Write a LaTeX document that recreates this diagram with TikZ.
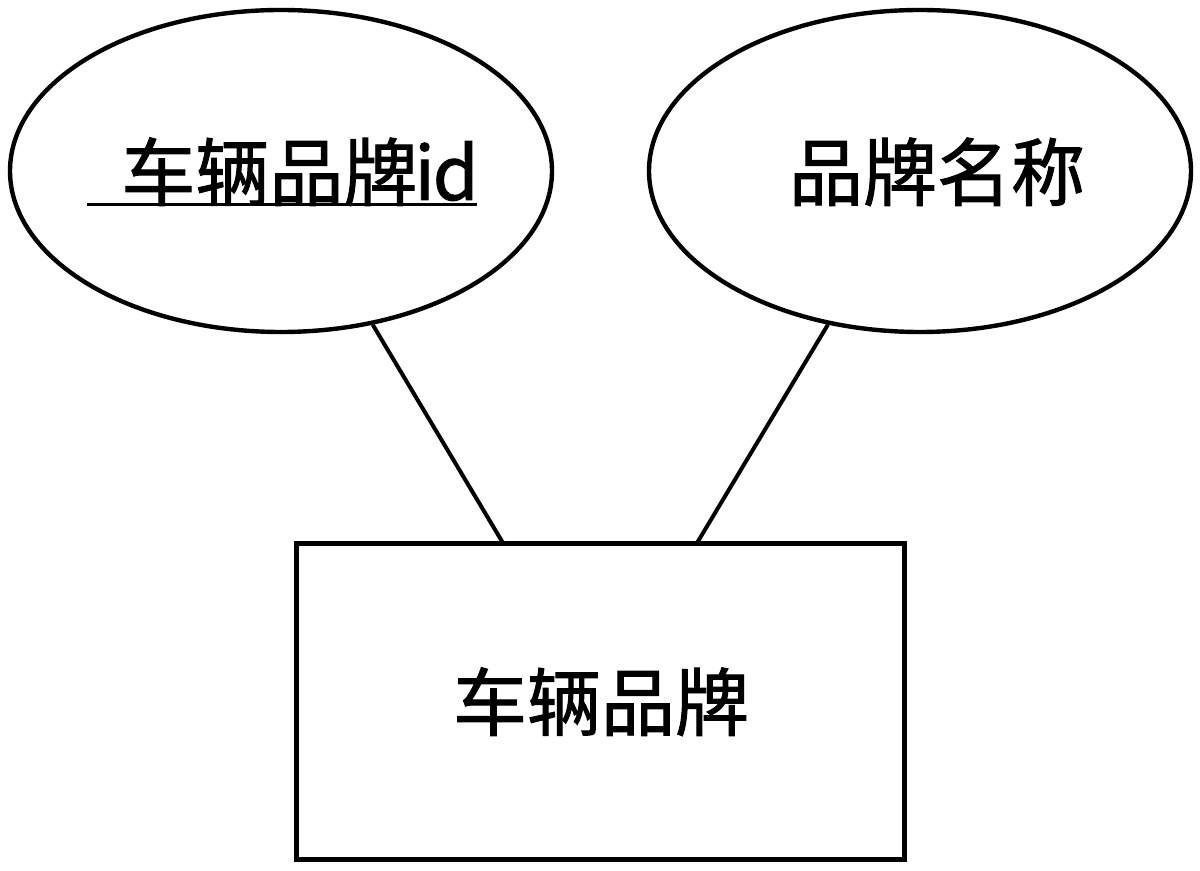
\documentclass[tikz,border=0pt]{standalone}
\usepackage{fontspec}
\setmainfont{Noto Sans CJK SC}
\newfontfamily\lblfont[FakeBold=1.3]{Noto Sans CJK SC}
\usetikzlibrary{shapes.geometric}
\begin{document}
\begin{tikzpicture}[x=0.5pt,y=-0.5pt,
  attr/.style={draw,ellipse,line width=2.2pt,minimum width=271pt,minimum height=161pt,inner sep=0pt},
  ent/.style={draw,rectangle,line width=2.3pt,minimum width=304pt,minimum height=158pt,inner sep=0pt},
  lbl/.style={inner sep=0pt,font=\lblfont\fontsize{37}{40}\selectfont},
  conn/.style={line width=2pt}]
\useasboundingbox (0,0) rectangle (1200,871);
\node[attr] (a1) at (281,171) {};
\node[attr] (a2) at (920,171) {};
\node[ent] (e) at (600.5,701.5) {};
\node[lbl,anchor=base west] (t1) at (87,200) {\hspace*{17pt}车辆品牌\kern-1.5pt i\kern-1pt d\kern-1pt};
\draw[line width=1.5pt] ([yshift=-2.2pt]t1.base west) -- ([yshift=-2.2pt]t1.base east);
\node[lbl,anchor=base] (t2) at (937,200) {品牌名称};
\node[lbl,anchor=base] (t3) at (601,730) {车辆品牌};
\coordinate (c1) at (503,543);
\coordinate (c2) at (697,543);
\draw[conn] (a1) -- (c1);
\draw[conn] (a2) -- (c2);
\end{tikzpicture}
\end{document}
